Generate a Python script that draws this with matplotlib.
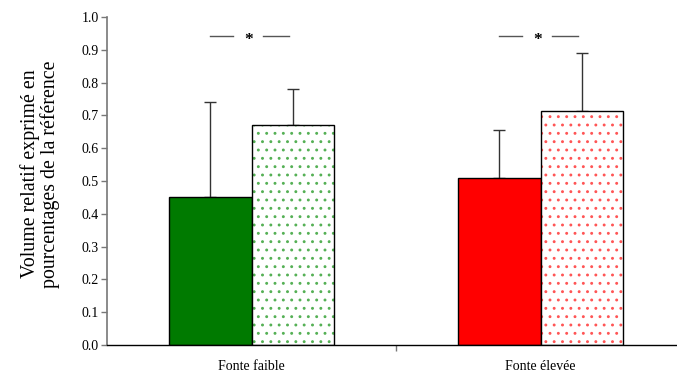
import matplotlib
matplotlib.use("Agg")
import matplotlib.pyplot as plt
import numpy as np

plt.rcParams['font.family'] = ['Liberation Serif', 'DejaVu Serif']
plt.rcParams['hatch.linewidth'] = 0.9

categories = ["Fonte faible", "Fonte élevée"]
solid_vals = [0.452, 0.508]
solid_err = [0.290, 0.147]
dotted_vals = [0.670, 0.712]
dotted_err = [0.110, 0.177]
colors = ["#007a00", "#ff0000"]
dot_colors = ["#55b055", "#ff5555"]
yticks = [0.0, 0.1, 0.2, 0.3, 0.4, 0.5, 0.6, 0.7, 0.8, 0.9, 1.0]
ylabel = "Volume relatif exprimé en\npourcentages de la référence"
sig_level = 0.942

fig = plt.figure(figsize=(6.77, 3.76), dpi=100)
ax = fig.add_axes([107/677, 1-345/376, 578/677, 328/376])

x = np.arange(len(categories))
w = 0.287

for i in range(len(categories)):
    ax.bar(x[i] - w/2, solid_vals[i], w, color=colors[i], edgecolor='black', linewidth=1.0, zorder=2)
    ax.bar(x[i] + w/2, dotted_vals[i], w, color='white', edgecolor=dot_colors[i], hatch='..', linewidth=0, zorder=2)
    ax.bar(x[i] + w/2, dotted_vals[i], w, fill=False, edgecolor='black', linewidth=1.0, zorder=3)
    ax.errorbar(x[i] - w/2, solid_vals[i], yerr=[[0], [solid_err[i]]], fmt='none', ecolor='#333333', elinewidth=1.0, capsize=4, capthick=1.0, zorder=1)
    ax.errorbar(x[i] + w/2, dotted_vals[i], yerr=[[0], [dotted_err[i]]], fmt='none', ecolor='#333333', elinewidth=1.0, capsize=4, capthick=1.0, zorder=1)
    ax.plot([x[i] - 0.145, x[i] - 0.063], [sig_level, sig_level], color='#555555', lw=1.0)
    ax.plot([x[i] + 0.04, x[i] + 0.13], [sig_level, sig_level], color='#555555', lw=1.0)
    ax.text(x[i] - 0.01, sig_level - 0.012, "*", ha='center', va='center', fontsize=12.5, fontweight='bold')

ax.set_xlim(-0.5, 1.5)
ax.set_ylim(0, 1.0)
ax.set_yticks(yticks)
ax.set_yticklabels([f"{t:.1f}" for t in yticks], fontsize=10)
ax.set_xticks(x)
ax.set_xticklabels(categories, fontsize=10)
ax.tick_params(axis='x', length=0, pad=11)
ax.set_xticks([0.5], minor=True)
ax.tick_params(axis='x', which='minor', length=4, color='#777777', width=1.0)
ax.tick_params(axis='y', length=4, color='#777777', width=1.0, pad=2)

for s in ['top', 'right']:
    ax.spines[s].set_visible(False)
ax.spines['left'].set_color('#777777')
ax.spines['left'].set_linewidth(1.2)
ax.spines['bottom'].set_color('black')
ax.spines['bottom'].set_linewidth(1.0)

fig.text(40/677, 1-174/376, ylabel, rotation=90, ha='center', va='center', fontsize=14.3, linespacing=1.0)

fig.savefig("out.png", dpi=100)
